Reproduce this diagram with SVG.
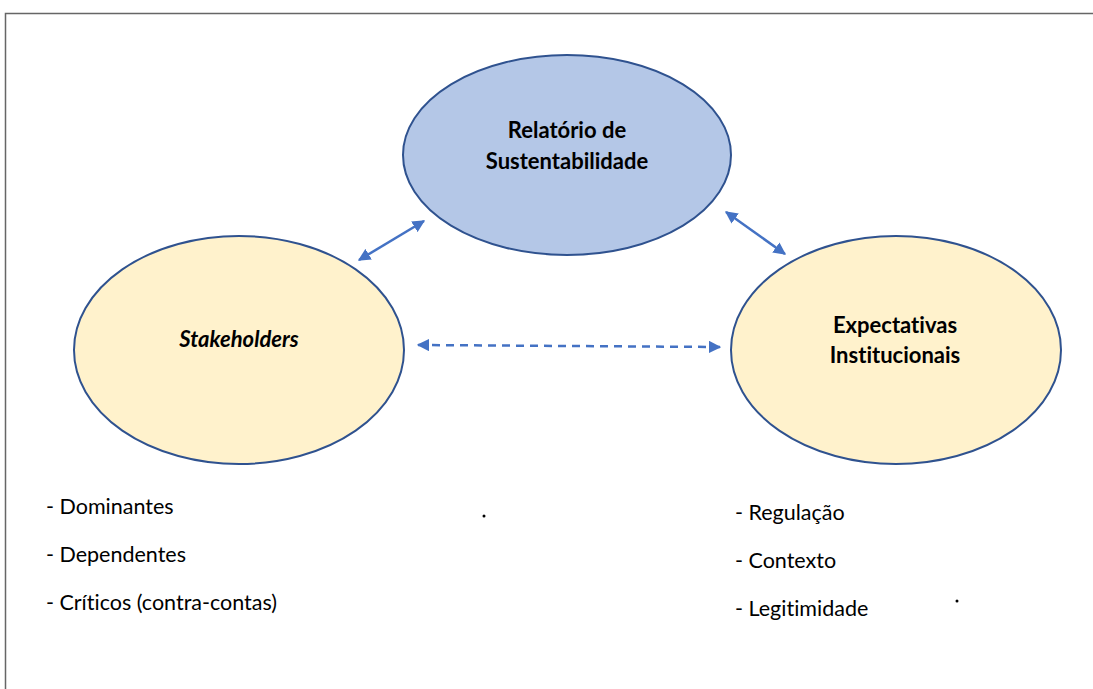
<svg xmlns="http://www.w3.org/2000/svg" width="1093" height="689" viewBox="0 0 1093 689">
<defs>
<style>
.t{font-family:Lato,"Liberation Sans",sans-serif;font-size:21.5px;fill:#000;font-variant-ligatures:none}
.b{font-weight:bold;text-anchor:middle;font-size:22px}
.el{stroke:#2F528F;stroke-width:2}
.c{stroke:#4472C4;stroke-width:2.5;fill:none}
</style>
<marker id="ah" viewBox="0 0 10 10" refX="9" refY="5" markerWidth="5" markerHeight="5" orient="auto-start-reverse" markerUnits="strokeWidth">
<path d="M0,0 L10,5 L0,10 z" fill="#4472C4"/>
</marker>
</defs>
<rect width="1093" height="689" fill="#fff"/>
<path d="M5.5,689 V13.5 H1093" fill="none" stroke="#666" stroke-width="1.5"/>
<g id="relatorio">
<ellipse class="el" cx="567" cy="155" rx="164" ry="100" fill="#B4C7E7"/>
<text class="t b" x="567" y="138">Relatório de</text>
<text class="t b" x="567" y="169">Sustentabilidade</text>
</g>
<g id="stakeholders">
<ellipse class="el" cx="239" cy="350" rx="165" ry="114" fill="#FFF2CC"/>
<text class="t b" x="239" y="347" font-style="italic">Stakeholders</text>
</g>
<g id="expectativas">
<ellipse class="el" cx="896" cy="350" rx="165" ry="114" fill="#FFF2CC"/>
<text class="t b" x="895" y="333">Expectativas</text>
<text class="t b" x="895" y="363">Institucionais</text>
</g>
<g id="connectors">
<line class="c" x1="359" y1="260" x2="424" y2="221" marker-start="url(#ah)" marker-end="url(#ah)"/>
<line class="c" x1="726" y1="212" x2="785" y2="254" marker-start="url(#ah)" marker-end="url(#ah)"/>
<line class="c" x1="418" y1="345" x2="720" y2="347" stroke-dasharray="8,6" marker-start="url(#ah)" marker-end="url(#ah)"/>
</g>
<g id="lista-stakeholders">
<text class="t" x="46" y="514">- Dominantes</text>
<text class="t" x="46" y="562">- Dependentes</text>
<text class="t" x="46" y="610">- Críticos (contra-contas)</text>
</g>
<g id="lista-expectativas">
<text class="t" x="735" y="520">- Regulação</text>
<text class="t" x="735" y="568">- Contexto</text>
<text class="t" x="735" y="616">- Legitimidade</text>
</g>
<circle cx="484" cy="516" r="1.5" fill="#000"/>
<circle cx="957" cy="601" r="1.5" fill="#000"/>
</svg>
